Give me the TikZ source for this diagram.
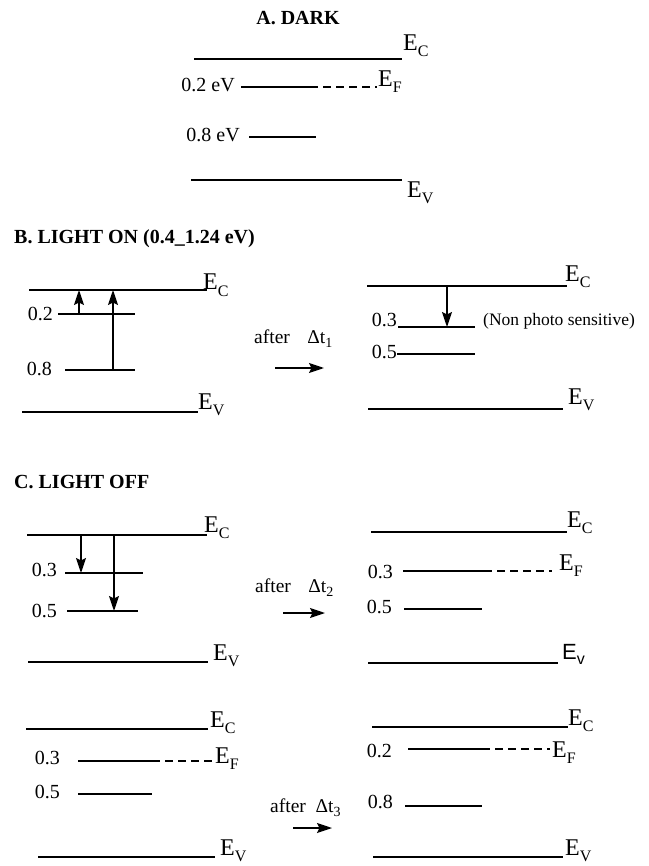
\documentclass[tikz,border=0pt]{standalone}
\usepackage{fontspec}
\setmainfont{Liberation Serif}
\newfontfamily\arialfont{Liberation Sans}
\usetikzlibrary{arrows.meta}

\newcommand{\levE}[1]{E\raisebox{-6pt}{\fontsize{16}{16}\selectfont #1}}
\newcommand{\levEsans}[1]{{\arialfont E\raisebox{-5pt}{\fontsize{16}{16}\selectfont #1}}}
\newcommand{\dtime}[1]{Δt\raisebox{-4pt}{\fontsize{14}{14}\selectfont #1}}

\tikzset{
  level/.style={line width=1.8pt},
  fermi/.style={line width=1.8pt, dash pattern=on 8pt off 5pt},
  jump/.style={line width=1.6pt, -{Stealth[length=15pt, width=10pt, inset=2.5pt]}},
  title/.style={inner sep=0pt, anchor=base west, font=\fontsize{20}{20}\selectfont\bfseries},
  num/.style={inner sep=0pt, anchor=base east, font=\fontsize{20}{20}\selectfont},
  band/.style={inner sep=0pt, anchor=base west, font=\fontsize{24}{24}\selectfont},
  note/.style={inner sep=0pt, anchor=base west, font=\fontsize{19.5}{20}\selectfont}
}

\begin{document}
\begin{tikzpicture}[x=1pt, y=-1pt]
  \useasboundingbox (0,0) rectangle (648,866);

  % A. dark
  \node[title, anchor=base] (titleA) at (298,25) {A. DARK};
  \draw[level] (194,59) -- (402,59);
  \node[band] (aEc) at (403,51) {\levE{C}};
  \node[num] (a02) at (235,92) {0.2 eV};
  \draw[level] (241,87) -- (310,87);
  \draw[fermi] (310,87) -- (377,87);
  \node[band] (aEf) at (378,87) {\levE{F}};
  \node[num] (a08) at (240,142) {0.8 eV};
  \draw[level] (249,137) -- (316,137);
  \draw[level] (191,180) -- (402,180);
  \node[band] (aEv) at (407,198) {\levE{V}};

  % B. light on, left
  \node[title] (titleB) at (14,244) {B. LIGHT ON (0.4\_1.24 eV)};
  \draw[level] (29,290) -- (207,290);
  \node[band] (bEc) at (203,290) {\levE{C}};
  \node[num] (b02) at (53,320) {0.2};
  \draw[level] (58,314) -- (135,314);
  \node[num] (b08) at (52,375) {0.8};
  \draw[level] (65,370) -- (135,370);
  \draw[level] (22,412) -- (198,412);
  \node[band] (bEv) at (198,409) {\levE{V}};
  \coordinate (b02up) at (79,314);
  \coordinate (b02top) at (79,290);
  \coordinate (b08up) at (113,370);
  \coordinate (b08top) at (113,290);
  \draw[jump] (b02up) -- (b02top);
  \draw[jump] (b08up) -- (b08top);

  \node[note] (after1) at (254,343) {after\hspace{0.9em}\dtime{1}};
  \coordinate (go1a) at (275,368);
  \coordinate (go1b) at (324,368);
  \draw[jump] (go1a) -- (go1b);

  % B. light on, right
  \draw[level] (367,286) -- (567,286);
  \node[band] (bbEc) at (565,281) {\levE{C}};
  \node[num] (bb03) at (397,326) {0.3};
  \draw[level] (398,327) -- (475,327);
  \node[note, font=\fontsize{17.5}{18}\selectfont] (nonphoto) at (483,325) {(Non photo sensitive)};
  \node[num] (bb05) at (397,358) {0.5};
  \draw[level] (397,354) -- (475,354);
  \draw[level] (368,409) -- (563,409);
  \node[band] (bbEv) at (568,404) {\levE{V}};
  \coordinate (bbtop) at (447,286);
  \coordinate (bbdown) at (447,327);
  \draw[jump] (bbtop) -- (bbdown);

  % C. light off, left top
  \node[title] (titleC) at (14,488) {C. LIGHT OFF};
  \draw[level] (27,535) -- (207,535);
  \node[band] (cEc) at (204,532) {\levE{C}};
  \node[num] (c03) at (57,576) {0.3};
  \draw[level] (65,573) -- (143,573);
  \node[num] (c05) at (57,617) {0.5};
  \draw[level] (67,611) -- (138,611);
  \draw[level] (28,662) -- (208,662);
  \node[band] (cEv) at (213,660) {\levE{V}};
  \coordinate (c03top) at (81,535);
  \coordinate (c03down) at (81,573);
  \coordinate (c05top) at (114,535);
  \coordinate (c05down) at (114,611);
  \draw[jump] (c03top) -- (c03down);
  \draw[jump] (c05top) -- (c05down);

  \node[note] (after2) at (255,592) {after\hspace{0.9em}\dtime{2}};
  \coordinate (go2a) at (283,613);
  \coordinate (go2b) at (325,613);
  \draw[jump] (go2a) -- (go2b);

  % C. light off, right top
  \draw[level] (371,532) -- (567,532);
  \node[band] (ccEc) at (567,527) {\levE{C}};
  \node[num] (cc03) at (393,578) {0.3};
  \draw[level] (403,571) -- (484,571);
  \draw[fermi] (484,571) -- (552,571);
  \node[band] (ccEf) at (559,570) {\levE{F}};
  \node[num] (cc05) at (392,613) {0.5};
  \draw[level] (404,609) -- (482,609);
  \draw[level] (368,663) -- (558,663);
  \node[band, font=\fontsize{22}{22}\selectfont] (ccEv) at (562,659) {\levEsans{v}};

  % C. light off, left bottom
  \draw[level] (26,729) -- (208,729);
  \node[band] (dEc) at (210,727) {\levE{C}};
  \node[num] (d03) at (60,764) {0.3};
  \draw[level] (78,761) -- (152,761);
  \draw[fermi] (152,761) -- (212,761);
  \node[band] (dEf) at (215,763) {\levE{F}};
  \node[num] (d05) at (60,798) {0.5};
  \draw[level] (78,794) -- (152,794);
  \draw[level] (38,857) -- (215,857);
  \node[band] (dEv) at (220,855) {\levE{V}};

  \node[note] (after3) at (270,812) {after\hspace{0.5em}\dtime{3}};
  \coordinate (go3a) at (293,828);
  \coordinate (go3b) at (332,828);
  \draw[jump] (go3a) -- (go3b);

  % C. light off, right bottom
  \draw[level] (372,727) -- (568,727);
  \node[band] (ddEc) at (568,725) {\levE{C}};
  \node[num] (dd02) at (392,757) {0.2};
  \draw[level] (408,749) -- (482,749);
  \draw[fermi] (482,749) -- (550,749);
  \node[band] (ddEf) at (552,757) {\levE{F}};
  \node[num] (dd08) at (393,808) {0.8};
  \draw[level] (405,806) -- (482,806);
  \draw[level] (373,857) -- (563,857);
  \node[band] (ddEv) at (565,855) {\levE{V}};
\end{tikzpicture}
\end{document}
